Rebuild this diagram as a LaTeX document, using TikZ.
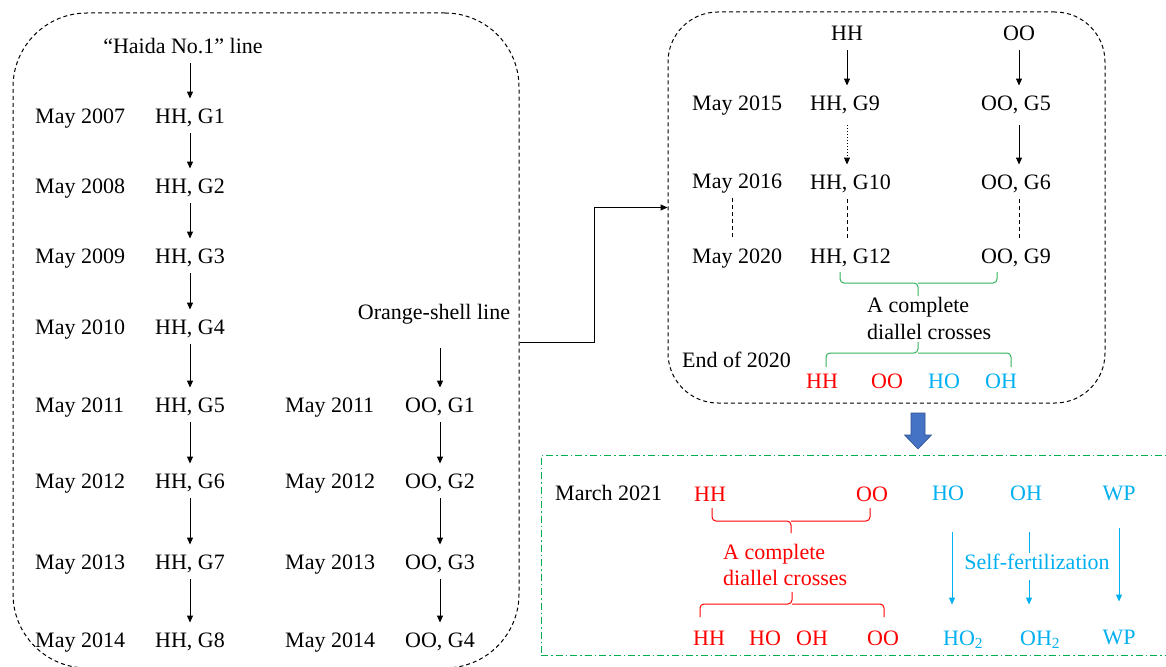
\documentclass[tikz,border=0pt]{standalone}
\usepackage{fontspec}
\setmainfont{Liberation Serif}
\usetikzlibrary{arrows.meta}
\definecolor{myred}{HTML}{FF0000}
\definecolor{mycyan}{HTML}{00B0F0}
\definecolor{mygreen}{HTML}{33B35A}
\definecolor{boxgreen}{HTML}{00B050}
\definecolor{arrowblue}{HTML}{4472C4}
\definecolor{arrowedge}{HTML}{2F528F}
\begin{document}
\begin{tikzpicture}[x=1pt,y=-1pt,
  lbl/.style={font=\fontsize{22}{26}\selectfont, inner xsep=0pt, inner ysep=7.5pt, text height=17pt, text depth=2.5pt},
  arr/.style={-{Triangle[length=7pt,width=6pt]}, line width=1pt},
  dbox/.style={draw=black, line width=1pt, dash pattern=on 4pt off 3pt, inner sep=0pt},
  brace/.style={line width=1pt, rounded corners=4pt},
  rtxt/.style={lbl, text=myred},
  ctxt/.style={lbl, text=mycyan}]
\useasboundingbox (0,0) rectangle (1166,666);
\clip (0,0) rectangle (1166,666);
\fill[white] (0,0) rectangle (1166,666);

% ---------------- boxes ----------------
\node[dbox, minimum width=506pt, minimum height=655pt, rounded corners=74pt] (lbox) at (266,340.5) {};
\node[dbox, minimum width=437pt, minimum height=391pt, rounded corners=50pt] (rbox) at (886.5,207.5) {};
\node[draw=boxgreen, line width=1pt, dash pattern=on 7pt off 3pt on 1.5pt off 3pt, inner sep=0pt,
      minimum width=631pt, minimum height=200pt] (gbox) at (856.5,555) {};

% ---------------- left box ----------------
\node[lbl] (haida) at (183,46) {“Haida No.1” line};
\foreach \i/\y/\yr in {1/116/2007,2/186/2008,3/256/2009,4/327/2010,5/405/2011,6/481/2012,7/562/2013,8/640/2014}{
  \node[lbl, anchor=west] (m\i) at (35,\y) {May \yr};
  \node[lbl] (hh\i) at (190,\y) {HH, G\i};
}
\node[lbl] (orange) at (434,312) {Orange-shell line};
\foreach \i/\y/\yr in {1/405/2011,2/481/2012,3/562/2013,4/640/2014}{
  \node[lbl, anchor=west] (n\i) at (285,\y) {May \yr};
  \node[lbl] (oo\i) at (440,\y) {OO, G\i};
}
\draw[arr] (haida.south -| hh1) -- (hh1.north);
\foreach \a/\b in {1/2,2/3,3/4,4/5,5/6,6/7,7/8}{
  \draw[arr] (hh\a.south) -- (hh\b.north);
}
\draw[arr, shorten <=19pt] (orange.south -| oo1) -- (oo1.north);
\foreach \a/\b in {1/2,2/3,3/4}{
  \draw[arr] (oo\a.south) -- (oo\b.north);
}

% connector between boxes
\draw[arr] ([yshift=-1.5pt]lbox.east) -- ++(75,0) |- (rbox.west);

% ---------------- top right box ----------------
\node[lbl] (hhT) at (847,33) {HH};
\node[lbl] (ooT) at (1019,33) {OO};
\node[lbl, anchor=west] (m15) at (692,103) {May 2015};
\node[lbl, anchor=west] (g9) at (810,103) {HH, G9};
\node[lbl, anchor=west] (o5) at (981,103) {OO, G5};
\node[lbl, anchor=west] (m16) at (692,181) {May 2016};
\node[lbl, anchor=west] (g10) at (810,182) {HH, G10};
\node[lbl, anchor=west] (o6) at (981,182) {OO, G6};
\node[lbl, anchor=west] (m20) at (692,256) {May 2020};
\node[lbl, anchor=west] (g12) at (810,256) {HH, G12};
\node[lbl, anchor=west] (o9) at (981,256) {OO, G9};

\draw[arr] (hhT.south) -- (hhT.south |- g9.north);
\draw[arr] (ooT.south) -- (ooT.south |- o5.north);
\draw[arr, dotted, shorten <=5pt] (hhT |- g9.south) -- (hhT |- g10.north);
\draw[arr, shorten <=5pt] (ooT |- o5.south) -- (ooT |- o6.north);
\draw[line width=1pt, dash pattern=on 4pt off 3pt] ([xshift=-5pt]m16.south) -- ([xshift=-5pt]m20.north);
\draw[line width=1pt, dash pattern=on 4pt off 3pt] (hhT |- g10.south) -- (hhT |- g12.north);
\draw[line width=1pt, dash pattern=on 4pt off 3pt] (ooT |- o6.south) -- (ooT |- o9.north);

% green braces
\draw[brace, mygreen] (840,272) |- (918,283) -- (918,296);
\draw[brace, mygreen] (997,272) |- (918,283);
\node[lbl, anchor=west] (tc1) at (867,305) {A complete};
\node[lbl, anchor=west] (tc2) at (867,332) {diallel crosses};
\draw[brace, mygreen] (826,367) |- (918,353) -- (918,342);
\draw[brace, mygreen] (1011,367) |- (918,353);

\node[lbl, anchor=west] (e20) at (682,360) {End of 2020};
\node[rtxt] (tHH) at (822,381) {HH};
\node[rtxt] (tOO) at (887,381) {OO};
\node[ctxt] (tHO) at (944,381) {HO};
\node[ctxt] (tOH) at (1001,381) {OH};

% block arrow
\filldraw[fill=arrowblue, draw=arrowedge, line width=0.6pt]
  (911,413) -- (925,413) -- (925,435) -- (931.5,435) -- (918,449) -- (904.5,435) -- (911,435) -- cycle;

% ---------------- bottom right box ----------------
\node[lbl, anchor=west] (mar) at (555,493) {March 2021};
\node[rtxt] (rHH) at (710,494) {HH};
\node[rtxt] (rOO) at (872,494) {OO};
\node[ctxt] (cHO) at (948,493) {HO};
\node[ctxt] (cOH) at (1026,493) {OH};
\node[ctxt] (cWP) at (1119,493) {WP};

\draw[brace, myred] (712,508) |- (791,521) -- (791,533);
\draw[brace, myred] (870,508) |- (791,521);
\node[rtxt, anchor=west] (rc1) at (723,552) {A complete};
\node[rtxt, anchor=west] (rc2) at (723,578) {diallel crosses};
\draw[brace, myred] (700,617) |- (792,604) -- (792,592);
\draw[brace, myred] (884,617) |- (792,604);

\node[rtxt] (bHH) at (709,638) {HH};
\node[rtxt] (bHO) at (765,638) {HO};
\node[rtxt] (bOH) at (812,638) {OH};
\node[rtxt] (bOO) at (883,638) {OO};
\node[ctxt, anchor=west] (bHO2) at (943,638) {HO\textsubscript{2}};
\node[ctxt, anchor=west] (bOH2) at (1020,638) {OH\textsubscript{2}};
\node[ctxt] (bWP) at (1119,637) {WP};

\draw[arr, mycyan, shorten <=22pt, shorten >=16pt] ([xshift=4pt]cHO.south) -- ([xshift=4pt]cHO.south |- bHO2.north);
\draw[arr, mycyan, shorten <=22pt, shorten >=16pt] ([xshift=3pt]cOH.south) -- ([xshift=3pt]cOH.south |- bOH2.north);
\draw[arr, mycyan, shorten <=18pt, shorten >=18pt] (cWP.south) -- (bWP.north);
\node[lbl, text=mycyan, fill=white, anchor=base, inner ysep=0pt, text height=16pt, text depth=11pt] (self) at (1037,569) {Self-fertilization};
\end{tikzpicture}
\end{document}
